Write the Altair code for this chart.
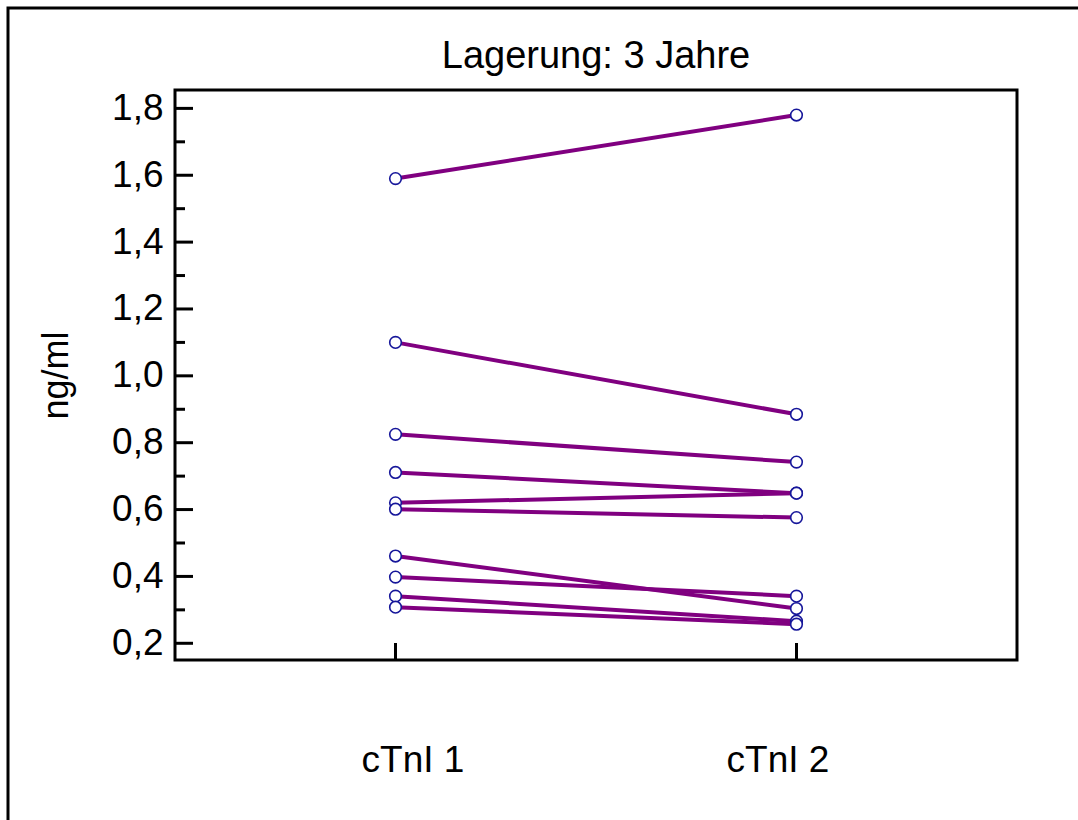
import altair as alt
import pandas as pd

# Paired cTnI measurements (ng/ml) per sample, before and after 3 years of storage
probe = ["P1", "P2", "P3", "P4", "P5", "P6", "P7", "P8", "P9", "P10"]
ctni_1 = [1.59, 1.10, 0.825, 0.711, 0.62, 0.601, 0.461, 0.398, 0.341, 0.308]
ctni_2 = [1.78, 0.885, 0.742, 0.649, 0.649, 0.576, 0.304, 0.341, 0.266, 0.257]
messungen = ["cTnI 1", "cTnI 2"]
titel = ["Lagerung: 3 Jahre"]

major_ticks = [0.2, 0.4, 0.6, 0.8, 1.0, 1.2, 1.4, 1.6, 1.8]
minor_ticks = [0.3, 0.5, 0.7, 0.9, 1.1, 1.3, 1.5, 1.7]

rows = []
for p, a, b in zip(probe, ctni_1, ctni_2):
    rows.append({"Probe": p, "Messung": messungen[0], "Wert": a})
    rows.append({"Probe": p, "Messung": messungen[1], "Wert": b})
df = pd.DataFrame(rows)

FONT = "Liberation Sans"
W, H = 842, 570

x_scale = alt.Scale(type="point", domain=messungen, padding=0.55)
y_scale = alt.Scale(domain=[0.15, 1.855], nice=False, zero=False)

x_axis = alt.Axis(
    title=None, domain=False, ticks=False, tickSize=0, grid=False,
    labelFont=FONT, labelFontSize=37, labelColor="black",
    labelBaseline="alphabetic", labelPadding=111, labelAngle=0,
    labelOffset=alt.condition("datum.value == 'cTnI 1'", alt.value(17), alt.value(-19)),
)
y_axis = alt.Axis(
    title="ng/ml", values=major_ticks, domain=False, ticks=False, tickSize=0, grid=False,
    labelExpr="replace(format(datum.value, '.1f'), '.', ',')",
    labelFont=FONT, labelFontSize=37, labelColor="black", labelPadding=12,
    titleFont=FONT, titleFontSize=36, titleFontWeight="normal", titleColor="black",
    titleAngle=270, titleX=-108, titleY=285, titleBaseline="alphabetic", titleAlign="center",
)

base = alt.Chart(df)

lines = base.mark_line(color="#800080", strokeWidth=4).encode(
    x=alt.X("Messung:N", scale=x_scale, axis=x_axis),
    y=alt.Y("Wert:Q", scale=y_scale, axis=y_axis),
    detail="Probe:N",
)

points = base.mark_point(
    shape="circle", filled=True, fill="white", stroke="#16169a",
    strokeWidth=1.6, size=135, opacity=1,
).encode(
    x=alt.X("Messung:N", scale=x_scale),
    y=alt.Y("Wert:Q", scale=y_scale),
)

# Inward-pointing y ticks (major and minor)
major = alt.Chart(pd.DataFrame({"t": major_ticks})).mark_rule(
    color="black", strokeWidth=3
).encode(y=alt.Y("t:Q", scale=y_scale), x=alt.value(0), x2=alt.value(18))

minor = alt.Chart(pd.DataFrame({"t": minor_ticks})).mark_rule(
    color="black", strokeWidth=3
).encode(y=alt.Y("t:Q", scale=y_scale), x=alt.value(0), x2=alt.value(10))

# Inward-pointing x ticks at the two measurements
xticks = alt.Chart(pd.DataFrame({"Messung": messungen})).mark_rule(
    color="black", strokeWidth=3
).encode(x=alt.X("Messung:N", scale=x_scale), y=alt.value(H - 17), y2=alt.value(H))

# Outer page frame
frame = alt.Chart(alt.Data(values=[{"f": 1}])).mark_rect(
    fill=None, stroke="black", strokeWidth=3
).encode(x=alt.value(-167), x2=alt.value(920), y=alt.value(-82), y2=alt.value(H + 180))

# Panel heading, centred over the plot area
heading = alt.Chart(pd.DataFrame({"t": titel})).mark_text(
    font=FONT, fontSize=38, color="black", align="center", baseline="alphabetic"
).encode(text="t:N", x=alt.value(W / 2), y=alt.value(-22))

chart = alt.layer(frame, lines, major, minor, xticks, points, heading).properties(
    width=W,
    height=H,
    autosize=alt.AutoSizeParams(type="none"),
    padding={"left": 175, "top": 90, "right": 61, "bottom": 160},
    background="white",
).configure_view(stroke="black", strokeWidth=3)

chart.save("out.html", embed_options={"renderer": "svg", "actions": False})
